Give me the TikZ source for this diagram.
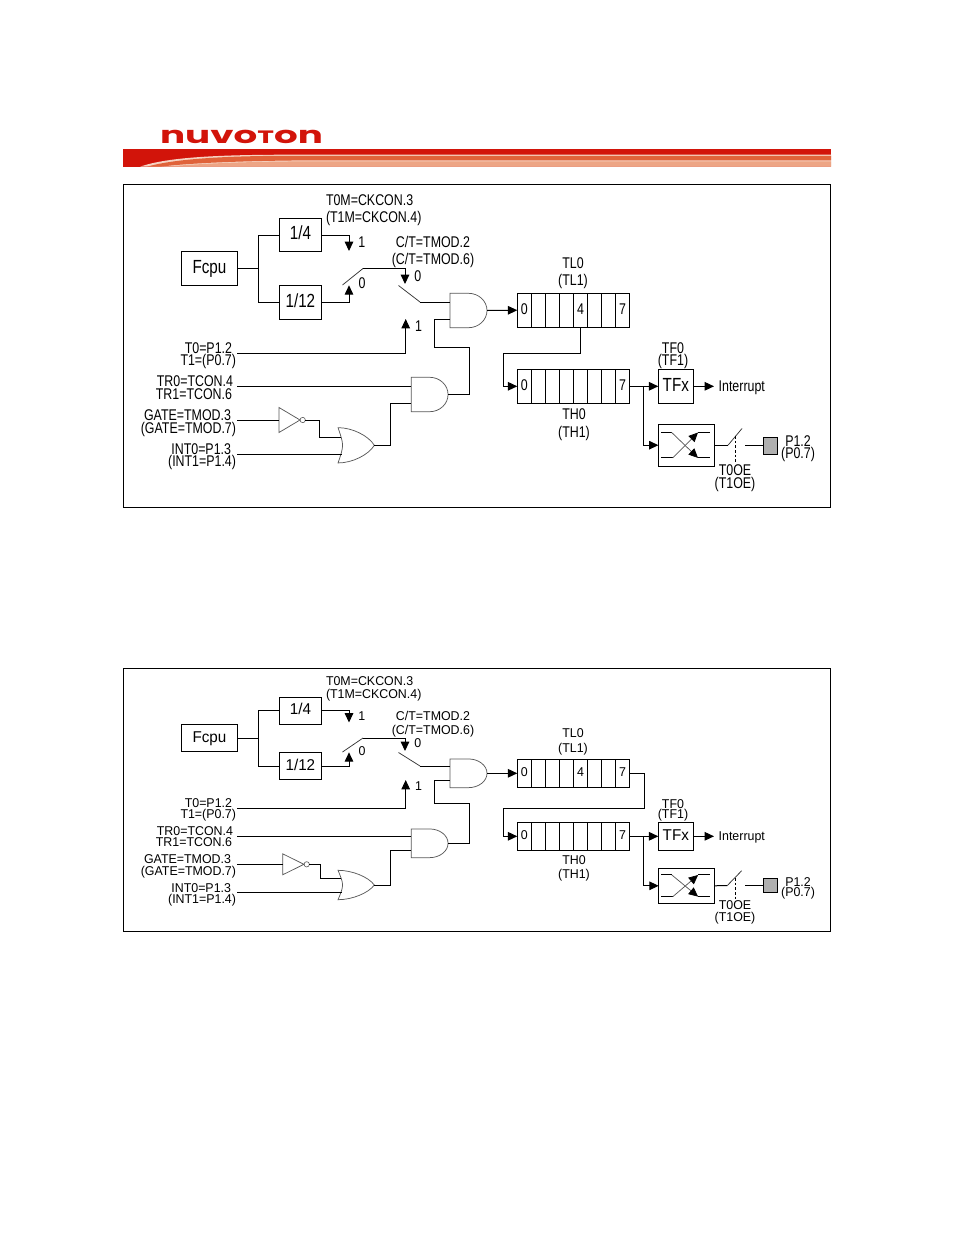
\documentclass[tikz,border=0pt]{standalone}
\usepackage{fontspec}
\usepackage{graphicx}
\setmainfont{Liberation Sans}
\newfontfamily\logofont{Poppins}
\usetikzlibrary{arrows.meta,calc}
\newcommand\fsm{\fontsize{9.3}{10}\selectfont}
\newcommand\fbg{\fontsize{11.4}{12}\selectfont}
\newcommand\ta[1]{\scalebox{1}[1.25]{#1}}
\newcommand\tb[1]{\scalebox{1}[1.03]{#1}}
\definecolor{nured}{HTML}{D2140A}
\definecolor{nuor}{HTML}{E0633A}
\definecolor{nusa}{HTML}{EDA585}
\definecolor{nupa}{HTML}{F6D3C3}
\tikzset{
  wire/.style={line width=.75pt,black},
  arr/.style={-{Triangle[length=7pt,width=6.4pt]}},
  thinsw/.style={line width=.55pt,black!80},
  frame/.style={draw,line width=.8pt,black},
  boxn/.style 2 args={draw,line width=.75pt,inner sep=0pt,outer sep=0pt,
     minimum width=#1*0.75pt,minimum height=#2*0.75pt,font=\fbg,text depth=0pt},
  cell/.style 2 args={draw,line width=.75pt,inner sep=0pt,outer sep=0pt,
     minimum width=14.05*0.75pt,minimum height=#1*0.75pt,font=\fsm,text depth=0pt,text height=#2},
  ghost/.style 2 args={inner sep=0pt,outer sep=0pt,minimum width=#1*0.75pt,minimum height=#2*0.75pt},
  bub/.style={draw=black!65,line width=.45pt,circle,inner sep=0pt,outer sep=0pt,minimum size=4pt},
  gate/.style={draw=black!65,line width=.55pt},
  lab/.style={inner sep=0pt,outer sep=0pt,font=\fsm,anchor=base},
  labr/.style={inner sep=0pt,outer sep=0pt,font=\fsm,anchor=base east},
  labl/.style={inner sep=0pt,outer sep=0pt,font=\fsm,anchor=base west},
  pad/.style 2 args={draw,line width=.75pt,fill=black!31,inner sep=0pt,outer sep=0pt,
     minimum width=#1*0.75pt,minimum height=#2*0.75pt},
  oedash/.style={line width=.6pt,dash pattern=on 2pt off 1.5pt}
}
\newcommand\andshape[1]{\draw[gate] (#1.north west) -- (#1.north)
  .. controls ($(#1.north)!0.55!(#1.north east)$) and ($(#1.east)!0.55!(#1.north east)$) .. (#1.east)
  .. controls ($(#1.east)!0.55!(#1.south east)$) and ($(#1.south)!0.55!(#1.south east)$) .. (#1.south)
  -- (#1.south west) -- cycle;}
\newcommand\orshape[1]{\draw[gate] (#1.north west)
  .. controls ($(#1.north)+(-4,0)$) and ($(#1.east)!0.55!(#1.north east)+(-6,0)$) .. (#1.east)
  .. controls ($(#1.east)!0.55!(#1.south east)+(-6,0)$) and ($(#1.south)+(-4,0)$) .. (#1.south west)
  .. controls ($(#1.west)+(6,0)$) and ($(#1.west)+(6,0)$) .. cycle;}
\newcommand\invshape[1]{\draw[gate] (#1.north west) -- (#1.east) -- (#1.south west) -- cycle;}
\newcommand\bufficon[2]{%
  \draw[wire] ($(#1)+(-25.5,-#2)$) -- ($(#1)+(-14.7,-#2)$);
  \draw[wire] ($(#1)+(-25.5,#2)$) -- ($(#1)+(-13.7,#2)$);
  \draw[wire] ($(#1)+(11.6,-#2)$) -- ($(#1)+(23.6,-#2)$);
  \draw[wire] ($(#1)+(11.6,#2)$) -- ($(#1)+(23.6,#2)$);
  \draw[gate,-{Triangle[length=7pt,width=6.4pt,black]}] ($(#1)+(-14.7,-#2)$) -- ($(#1)+(11.6,#2)$);
  \draw[gate,-{Triangle[length=7pt,width=6.4pt,black]}] ($(#1)+(-13.7,#2)$) -- ($(#1)+(11.6,-#2)$);}
\begin{document}
\begin{tikzpicture}[x=0.75pt,y=-0.75pt]
\useasboundingbox (0,0) rectangle (954,1235);
\fill[white] (0,0) rectangle (954,1235);
% logo and banner
\node[inner sep=0pt,anchor=center,text=nured] (logo) at (241.5,136.5)
  {\resizebox{122pt}{10pt}{\logofont\bfseries nuvo\scalebox{.76}{T}on}};
\fill[nured] (123,149.3) rectangle (831,166.7);
\fill[nupa] (140,166.7) .. controls (165,158) and (210,154.7) .. (290,154.7) -- (831,154.7) -- (831,166.7) -- cycle;
\fill[nuor] (147,166.7) .. controls (170,160) and (215,155.8) .. (290,155.8) -- (831,155.8) -- (831,160.4) -- (300,160.4) .. controls (240,161) and (190,163) .. (160,166.7) -- cycle;
\fill[nusa] (165,166.7) .. controls (200,163.5) and (250,161.4) .. (310,161.4) -- (831,161.4) -- (831,166.7) -- cycle;

%%%%%%%%%% PANEL 1
\draw[frame] (123.5,184.5) rectangle (830.5,507.5);
\node[boxn={56.5}{33.5},text height=7.2pt] (fa) at (209.5,268.5) {\ta{Fcpu}};
\node[boxn={42}{32.6},text height=6.8pt] (d4a) at (300.4,235) {\ta{1/4}};
\node[boxn={42}{33.7},text height=7.4pt] (d12a) at (300.4,302.2) {\ta{1/12}};
\coordinate (ja) at (258.5,268.5);
\draw[wire] (fa.east) -- (ja);
\draw[wire] (d4a.west) -| (ja) |- (d12a.west);
\coordinate (a1) at (349,251);
\coordinate (a2) at (349,285.3);
\draw[wire,arr] (d4a.east) -| (a1);
\draw[wire,arr] (d12a.east) -| (a2);
\coordinate (s1) at (342.5,285);
\coordinate (s2) at (363,268.5);
\coordinate (a3) at (405,284);
\draw[thinsw] (s1) -- (s2);
\draw[wire,arr] (s2) -| (a3);
\coordinate (s3) at (398.5,285.5);
\coordinate (s4) at (420,302);
\node[ghost={37}{34.4}] (anda) at (468.5,310.5) {};
\andshape{anda}
\draw[thinsw] (s3) -- (s4);
\draw[wire] (s4) -- (s4 -| anda.west);
\coordinate (c4) at (450,319);
\coordinate (c3) at (434.7,319);
\coordinate (c2) at (434.7,347);
\coordinate (c1) at (469.3,347);
\node[ghost={36.7}{34.4}] (andb) at (429.7,394.5) {};
\andshape{andb}
\draw[wire] (andb.east) -| (c1) -- (c2) -- (c3) -- (c4);
\coordinate (in1) at (237,353.5);
\coordinate (a4) at (405.7,319);
\draw[wire,arr] (in1) -| (a4);
\coordinate (in2) at (237,386.3);
\draw[wire] (in2) -- (in2 -| andb.west);
\node[ghost={36.3}{35.3}] (ora) at (356.2,445.3) {};
\orshape{ora}
\coordinate (k1) at (390.3,403.3);
\draw[wire] (ora.east) -| (k1) -- (k1 -| andb.west);
\node[ghost={21}{25}] (inva) at (289.5,420) {};
\invshape{inva}
\node[bub] (bua) at (302.7,420) {};
\coordinate (in3) at (237,420);
\draw[wire] (in3) -- (inva.west);
\coordinate (k2) at (319.5,437.5);
\coordinate (k3) at (341,437.5);
\draw[wire] (bua.east) -| (k2) -- (k3);
\coordinate (in4) at (237,454.3);
\coordinate (k4) at (342,454.3);
\draw[wire] (in4) -- (k4);
\foreach \i/\t in {0/0,1/,2/,3/,4/4,5/,6/,7/7}
  \node[cell={33.7}{7pt}] (tla\i) at ({524.3+14.05*\i},310.2) {\ta{\t}};
\foreach \i/\t in {0/0,1/,2/,3/,4/,5/,6/,7/7}
  \node[cell={34}{7pt}] (tha\i) at ({524.3+14.05*\i},386.3) {\ta{\t}};
\draw[wire,arr] (anda.east) -- (tla0.west);
\coordinate (m1) at (503.3,353.3);
\draw[wire,arr] (tla4.south) |- (m1) |- (tha0.west);
\node[boxn={35}{34},text height=7.4pt] (tfa) at (675.8,386.3) {\ta{TFx}};
\node[boxn={56}{41.7}] (bfa) at (686.4,445.2) {};
\draw[wire,arr] (tha7.east) -- (tfa.west);
\coordinate (b1) at (643.3,386.3);
\draw[wire,arr] (b1) |- (bfa.west);
\coordinate (ia) at (714,386.3);
\draw[wire,arr] (tfa.east) -- (ia);
\bufficon{bfa}{12.7}
\coordinate (q1) at (728,445.2);
\coordinate (q2) at (742,428.5);
\draw[wire] (bfa.east) -- (q1);
\draw[thinsw] (q1) -- (q2);
\coordinate (q3) at (735.3,436);
\coordinate (q4) at (735.3,462);
\draw[oedash] (q3) -- (q4);
\node[pad={14.4}{17}] (pa) at (770.5,445.8) {};
\coordinate (q5) at (745,445.5);
\draw[wire] (q5) -- (q5 -| pa.west);
% panel 1 labels
\node[labl] (la1) at (326,205.3) {\ta{T0M=CKCON.3}};
\node[labl] (la2) at (326,222) {\ta{(T1M=CKCON.4)}};
\node[lab] (la3) at (433,247) {\ta{C/T=TMOD.2}};
\node[lab] (la4) at (433,264.3) {\ta{(C/T=TMOD.6)}};
\node[lab] (la5) at (361.7,247.3) {\ta{1}};
\node[lab] (la6) at (362,288.7) {\ta{0}};
\node[lab] (la7) at (417.7,281) {\ta{0}};
\node[lab] (la8) at (418.5,331.3) {\ta{1}};
\node[lab] (la9) at (573,268.3) {\ta{TL0}};
\node[lab] (la10) at (573,285.7) {\ta{(TL1)}};
\node[labr] (la11) at (232,353) {\ta{T0=P1.2}};
\node[labr] (la12) at (236,365.5) {\ta{T1=(P0.7)}};
\node[labr] (la13) at (233,386) {\ta{TR0=TCON.4}};
\node[labr] (la14) at (232,399) {\ta{TR1=TCON.6}};
\node[labr] (la15) at (231,420.3) {\ta{GATE=TMOD.3}};
\node[labr] (la16) at (236,433.3) {\ta{(GATE=TMOD.7)}};
\node[labr] (la17) at (231,454.3) {\ta{INT0=P1.3}};
\node[labr] (la18) at (236,466.7) {\ta{(INT1=P1.4)}};
\node[lab] (la19) at (574,419.3) {\ta{TH0}};
\node[lab] (la20) at (574,437) {\ta{(TH1)}};
\node[lab] (la21) at (673,353) {\ta{TF0}};
\node[lab] (la22) at (673,365) {\ta{(TF1)}};
\node[labl] (la23) at (718.7,391) {\ta{Interrupt}};
\node[lab] (la24) at (798,446) {\ta{P1.2}};
\node[lab] (la25) at (798,458.5) {\ta{(P0.7)}};
\node[lab] (la26) at (735,475.3) {\ta{T0OE}};
\node[lab] (la27) at (735,488.5) {\ta{(T1OE)}};

%%%%%%%%%% PANEL 2
\draw[frame] (123.5,668.5) rectangle (830.5,931.5);
\node[boxn={56.5}{27.4},text height=6.2pt] (fb) at (209.5,738) {\tb{Fcpu}};
\node[boxn={42}{27.3},text height=6pt] (d4b) at (300.4,710.7) {\tb{1/4}};
\node[boxn={42}{27.4},text height=6.6pt] (d12b) at (300.4,766) {\tb{1/12}};
\coordinate (jb) at (258.5,738);
\draw[wire] (fb.east) -- (jb);
\draw[wire] (d4b.west) -| (jb) |- (d12b.west);
\coordinate (ab1) at (349,722.5);
\coordinate (ab2) at (349,752.3);
\draw[wire,arr] (d4b.east) -| (ab1);
\draw[wire,arr] (d12b.east) -| (ab2);
\coordinate (sb1) at (342.5,752);
\coordinate (sb2) at (363,738);
\coordinate (ab3) at (405,751);
\draw[thinsw] (sb1) -- (sb2);
\draw[wire,arr] (sb2) -| (ab3);
\coordinate (sb3) at (398.5,752.5);
\coordinate (sb4) at (420,766);
\node[ghost={37}{28.7}] (andc) at (468.5,773.3) {};
\andshape{andc}
\draw[thinsw] (sb3) -- (sb4);
\draw[wire] (sb4) -- (sb4 -| andc.west);
\coordinate (cb4) at (450,780.3);
\coordinate (cb3) at (434.7,780.3);
\coordinate (cb2) at (434.7,803.7);
\coordinate (cb1) at (469.3,803.7);
\node[ghost={36.7}{28.7}] (andd) at (429.7,843.3) {};
\andshape{andd}
\draw[wire] (andd.east) -| (cb1) -- (cb2) -- (cb3) -- (cb4);
\coordinate (ib1) at (237,808);
\coordinate (ab4) at (405.7,780);
\draw[wire,arr] (ib1) -| (ab4);
\coordinate (ib2) at (237,836.3);
\draw[wire] (ib2) -- (ib2 -| andd.west);
\node[ghost={36.3}{29.4}] (orb) at (356.2,885) {};
\orshape{orb}
\coordinate (kb1) at (390.3,850.3);
\draw[wire] (orb.east) -| (kb1) -- (kb1 -| andd.west);
\node[ghost={21.3}{21}] (invb) at (293.3,864.3) {};
\invshape{invb}
\node[bub] (bub) at (306.7,864.3) {};
\coordinate (ib3) at (237,864.3);
\draw[wire] (ib3) -- (invb.west);
\coordinate (kb2) at (320.3,878.3);
\coordinate (kb3) at (341,878.3);
\draw[wire] (bub.east) -| (kb2) -- (kb3);
\coordinate (ib4) at (237,892.3);
\coordinate (kb4) at (342,892.3);
\draw[wire] (ib4) -- (kb4);
\foreach \i/\t in {0/0,1/,2/,3/,4/4,5/,6/,7/7}
  \node[cell={28}{5.2pt}] (tlb\i) at ({524.3+14.05*\i},773.3) {\tb{\t}};
\foreach \i/\t in {0/0,1/,2/,3/,4/,5/,6/,7/7}
  \node[cell={28}{5.2pt}] (thb\i) at ({524.3+14.05*\i},836.3) {\tb{\t}};
\draw[wire,arr] (andc.east) -- (tlb0.west);
\coordinate (mb1) at (644.7,808.3);
\coordinate (mb2) at (503.7,836.3);
\draw[wire,arr] (tlb7.east) -| (mb1) -| (mb2) -- (thb0.west);
\node[boxn={35}{28},text height=6.4pt] (tfb) at (675.8,836.3) {\tb{TFx}};
\node[boxn={55.6}{35}] (bfb) at (686.5,885.8) {};
\draw[wire,arr] (thb7.east) -- (tfb.west);
\coordinate (bb1) at (643.7,836.3);
\draw[wire,arr] (bb1) |- (bfb.west);
\coordinate (ib) at (714,836.3);
\draw[wire,arr] (tfb.east) -- (ib);
\bufficon{bfb}{10.85}
\coordinate (qb1) at (727.3,885.5);
\coordinate (qb2) at (741.7,870.7);
\draw[wire] (bfb.east) -- (qb1);
\draw[thinsw] (qb1) -- (qb2);
\coordinate (qb3) at (735,878);
\coordinate (qb4) at (735,901);
\draw[oedash] (qb3) -- (qb4);
\node[pad={14}{14}] (pb) at (770.7,885.7) {};
\coordinate (qb5) at (745,885.5);
\draw[wire] (qb5) -- (qb5 -| pb.west);
% panel 2 labels
\node[labl] (lb1) at (326,685) {\tb{T0M=CKCON.3}};
\node[labl] (lb2) at (326,698.7) {\tb{(T1M=CKCON.4)}};
\node[lab] (lb3) at (433,720.7) {\tb{C/T=TMOD.2}};
\node[lab] (lb4) at (433,734.3) {\tb{(C/T=TMOD.6)}};
\node[lab] (lb5) at (361.7,720) {\tb{1}};
\node[lab] (lb6) at (362,755) {\tb{0}};
\node[lab] (lb7) at (417.7,747.7) {\tb{0}};
\node[lab] (lb8) at (418.5,790) {\tb{1}};
\node[lab] (lb9) at (573,737.3) {\tb{TL0}};
\node[lab] (lb10) at (573,752) {\tb{(TL1)}};
\node[labr] (lb11) at (232,807.5) {\tb{T0=P1.2}};
\node[labr] (lb12) at (236,818.7) {\tb{T1=(P0.7)}};
\node[labr] (lb13) at (233,835) {\tb{TR0=TCON.4}};
\node[labr] (lb14) at (232,846.7) {\tb{TR1=TCON.6}};
\node[labr] (lb15) at (231,863.5) {\tb{GATE=TMOD.3}};
\node[labr] (lb16) at (236,875) {\tb{(GATE=TMOD.7)}};
\node[labr] (lb17) at (231,892) {\tb{INT0=P1.3}};
\node[labr] (lb18) at (236,903.3) {\tb{(INT1=P1.4)}};
\node[lab] (lb19) at (574,864) {\tb{TH0}};
\node[lab] (lb20) at (574,878) {\tb{(TH1)}};
\node[lab] (lb21) at (673,808) {\tb{TF0}};
\node[lab] (lb22) at (673,818.3) {\tb{(TF1)}};
\node[labl] (lb23) at (718.7,840) {\tb{Interrupt}};
\node[lab] (lb24) at (798,886) {\tb{P1.2}};
\node[lab] (lb25) at (798,896) {\tb{(P0.7)}};
\node[lab] (lb26) at (735,909.5) {\tb{T0OE}};
\node[lab] (lb27) at (735,921) {\tb{(T1OE)}};
\end{tikzpicture}
\end{document}
